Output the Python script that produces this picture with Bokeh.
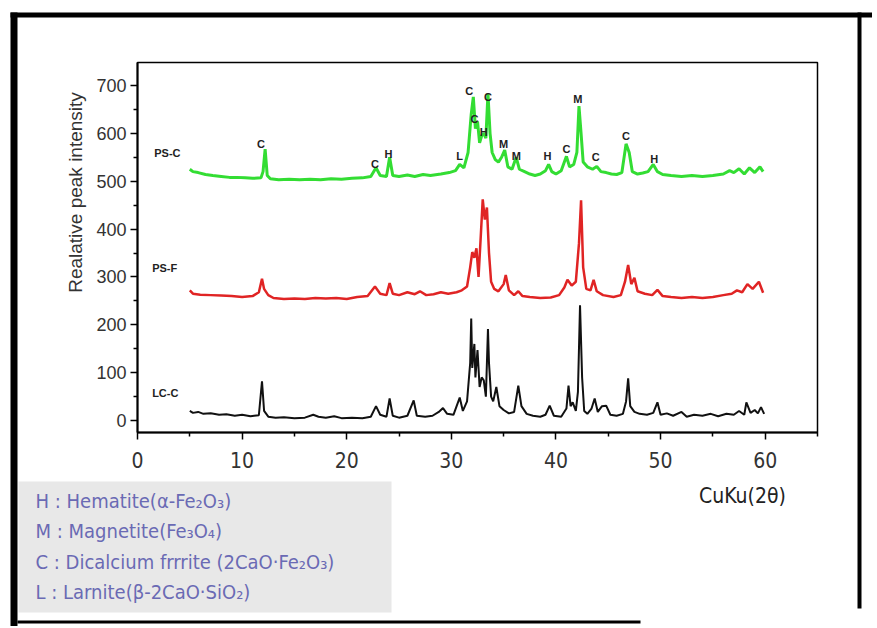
import math
from bokeh.plotting import figure
from bokeh.models import FixedTicker, Range1d
from bokeh.core.properties import value
from bokeh.embed import file_html
from bokeh.resources import INLINE

# ---------------- data ----------------
psc_x = [5.0, 5.3, 5.8, 6.5, 7.2, 8.0, 8.8, 9.5, 10.3, 11.0, 11.8, 12.0, 12.2, 12.4, 12.7, 13.5, 14.5,
         15.5, 16.5, 17.5, 18.5, 19.5, 20.5, 21.5, 22.3, 22.8, 23.2, 23.8, 24.1, 24.4, 25.0, 25.8,
         26.5, 27.3, 28.0, 29.0, 29.8, 30.4, 30.8, 31.2, 31.6, 31.9, 32.1, 32.3, 32.5, 32.7, 32.9,
         33.1, 33.3, 33.5, 33.7, 33.9, 34.2, 34.5, 34.8, 35.1, 35.4, 35.8, 36.2, 36.5, 37.0, 37.5,
         38.0, 38.5, 39.0, 39.3, 39.6, 40.0, 40.5, 41.0, 41.3, 41.7, 42.0, 42.2, 42.4, 42.6, 43.0,
         43.5, 43.9, 44.3, 44.8, 45.3, 45.8, 46.3, 46.7, 47.0, 47.3, 47.8, 48.3, 48.8, 49.3, 49.7,
         50.2, 51.0, 52.0, 53.0, 54.0, 55.0, 56.0, 56.6, 57.0, 57.5, 58.0, 58.5, 59.0, 59.5, 59.8]
psc_y = [525, 520, 518, 514, 512, 510, 508, 508, 507, 506, 507, 520, 567, 512, 505, 503, 504,
         503, 504, 503, 505, 504, 506, 507, 510, 528, 512, 510, 550, 512, 510, 513,
         510, 514, 512, 515, 518, 522, 535, 528, 560, 640, 676, 610, 625, 580, 595,
         600, 590, 683, 600, 560, 545, 540, 550, 565, 530, 525, 550, 525, 520, 515,
         512, 515, 522, 535, 520, 515, 522, 552, 530, 535, 560, 657, 600, 540, 530,
         525, 531, 520, 518, 515, 514, 518, 578, 560, 520, 515, 517, 520, 535, 520,
         514, 512, 510, 512, 510, 512, 515, 522, 518, 526, 515, 528, 518, 530, 520]

psf_x = [5.0, 5.3, 6.0, 7.0, 8.0, 9.0, 10.0, 11.0, 11.6, 11.9, 12.1, 12.5, 13.0, 14.0, 15.0, 16.0,
         17.0, 18.0, 19.0, 20.0, 21.0, 22.0, 22.7, 23.2, 23.8, 24.1, 24.4, 25.0, 25.8, 26.5, 27.0,
         27.6, 28.3, 29.0, 29.7, 30.5, 31.0, 31.5, 31.8, 32.0, 32.2, 32.4, 32.6, 32.8, 33.0, 33.2,
         33.4, 33.6, 33.8, 34.1, 34.5, 35.0, 35.2, 35.5, 36.0, 36.4, 36.8, 37.5, 38.5, 39.5, 40.3,
         40.8, 41.1, 41.5, 41.9, 42.2, 42.4, 42.6, 42.9, 43.3, 43.6, 43.9, 44.5, 45.5, 46.2, 46.6,
         46.9, 47.2, 47.5, 47.8, 48.5, 49.2, 49.7, 50.2, 51.0, 52.0, 53.0, 54.0, 55.0, 56.0, 56.8,
         57.3, 57.8, 58.3, 58.8, 59.4, 59.8]
psf_y = [272, 265, 263, 262, 261, 260, 258, 260, 268, 296, 275, 262, 256, 254, 255, 254,
         256, 255, 256, 254, 258, 260, 280, 265, 262, 287, 265, 262, 268, 264, 270,
         262, 264, 268, 265, 268, 272, 280, 320, 352, 340, 360, 300, 380, 462, 420,
         445, 350, 290, 275, 270, 285, 304, 272, 262, 270, 260, 258, 256, 257, 262,
         278, 294, 282, 290, 370, 460, 320, 275, 272, 294, 270, 262, 258, 262, 290,
         325, 285, 298, 270, 265, 262, 273, 260, 258, 256, 258, 256, 258, 262, 265,
         272, 268, 285, 275, 290, 267]

lcc_x = [5.0, 5.3, 5.8, 6.3, 7.0, 7.8, 8.5, 9.3, 10.0, 10.8, 11.6, 11.9, 12.1, 12.5, 13.2, 14.0,
         15.0, 16.0, 16.8, 17.3, 18.0, 18.8, 19.5, 20.5, 21.5, 22.3, 22.8, 23.2, 23.8, 24.1, 24.4,
         25.0, 25.8, 26.4, 26.7, 27.5, 28.2, 28.8, 29.2, 29.6, 30.2, 30.8, 31.1, 31.5, 31.8, 31.9,
         32.0, 32.2, 32.3, 32.5, 32.7, 32.9, 33.1, 33.3, 33.5, 33.6, 33.8, 34.0, 34.3, 34.6, 35.0,
         35.5, 36.0, 36.4, 36.7, 37.2, 37.8, 38.5, 39.0, 39.4, 39.8, 40.5, 41.0, 41.2, 41.4, 41.6,
         41.9, 42.1, 42.3, 42.5, 42.7, 43.0, 43.4, 43.7, 44.0, 44.4, 44.8, 45.2, 45.8, 46.4, 46.7,
         46.9, 47.1, 47.5, 48.0, 48.7, 49.3, 49.7, 50.0, 50.6, 51.2, 52.0, 52.5, 53.2, 54.0, 54.8,
         55.5, 56.3, 57.0, 57.5, 58.0, 58.2, 58.6, 59.0, 59.3, 59.6, 59.9]
lcc_y = [20, 16, 18, 14, 15, 12, 13, 10, 12, 9, 11, 82, 20, 8, 6, 7,
         5, 6, 12, 8, 6, 9, 5, 6, 5, 8, 30, 12, 8, 46, 10,
         6, 10, 42, 10, 8, 10, 18, 26, 14, 12, 48, 20, 40, 120, 213,
         110, 160, 90, 147, 70, 90, 84, 50, 191, 120, 50, 40, 70, 30, 22,
         15, 18, 73, 30, 14, 10, 8, 12, 31, 10, 8, 25, 73, 30, 38,
         20, 60, 241, 90, 20, 14, 25, 46, 18, 30, 31, 12, 10, 14, 40,
         88, 30, 18, 14, 12, 16, 38, 12, 15, 10, 18, 8, 12, 10, 14,
         9, 14, 12, 20, 12, 38, 16, 22, 15, 28, 14]

# phase markers on the PS-C pattern
mark_text = ["C", "C", "H", "L", "C", "C", "H", "C", "M", "M", "H", "C", "M", "C", "C", "H"]
mark_x = [11.8, 22.7, 24.0, 30.8, 31.7, 32.2, 33.1, 33.5, 35.0, 36.2, 39.2, 41.0, 42.1, 43.8, 46.7, 49.4]
mark_y = [578, 536, 557, 552, 689, 630, 603, 676, 578, 552, 552, 567, 672, 550, 594, 546]

series_names = ["PS-C", "PS-F", "LC-C"]
series_label_x = [1.6, 1.4, 1.4]
series_label_y = [559, 319, 57]

x_ticks = [0, 10, 20, 30, 40, 50, 60]
x_minor = [5, 15, 25, 35, 45, 55, 65]
y_ticks = [0, 100, 200, 300, 400, 500, 600, 700]
y_minor = [50, 150, 250, 350, 450, 550, 650]

x_title = "CuKu(2\u03b8)"
y_title = "Realative peak intensity"
legend_lines = ["H : Hematite(\u03b1-Fe\u2082O\u2083)",
                "M : Magnetite(Fe\u2083O\u2084)",
                "C : Dicalcium frrrite (2CaO\u00b7Fe\u2082O\u2083)",
                "L : Larnite(\u03b2-2CaO\u00b7SiO\u2082)"]

# ---------------- geometry (canvas pixels) ----------------
W, H = 872, 626
FL, FR, FT, FB = 137, 817, 62, 432     # chart box in canvas pixels
X0, X1 = 0, 65                         # chart box in data units
Y0, Y1 = -25, 748
SX = (FR - FL) / (X1 - X0)
SY = (FB - FT) / (Y1 - Y0)


def dx(px):
    return X0 + (px - FL) / SX


def dy(py):
    return Y0 + (FB - py) / SY


p = figure(width=W, height=H, output_backend="svg", toolbar_location=None,
           x_range=Range1d(dx(0), dx(W)), y_range=Range1d(dy(H), dy(0)),
           min_border=0, min_border_left=0, min_border_right=0,
           min_border_top=0, min_border_bottom=0)
p.background_fill_color = "white"
p.border_fill_color = "white"
p.outline_line_color = None
p.xgrid.visible = False
p.ygrid.visible = False

NARROW = "'Liberation Sans Narrow', 'DejaVu Sans Condensed', sans-serif"
SANS = "'Liberation Sans', Arial, sans-serif"

p.xaxis.ticker = FixedTicker(ticks=x_ticks, minor_ticks=x_minor)
p.yaxis.ticker = FixedTicker(ticks=y_ticks, minor_ticks=y_minor)
p.xaxis.fixed_location = Y0
p.yaxis.fixed_location = X0
p.xaxis.bounds = (X0, X1)
p.yaxis.bounds = (Y0, Y1)
for ax in (p.xaxis[0], p.yaxis[0]):
    ax.axis_line_color = "black"
    ax.axis_line_width = 2
    ax.major_tick_line_color = "black"
    ax.minor_tick_line_color = "black"
    ax.major_tick_line_width = 1.5
    ax.minor_tick_line_width = 1.5
    ax.major_tick_in = 0
    ax.major_tick_out = 7
    ax.minor_tick_in = 0
    ax.minor_tick_out = 4
    ax.major_label_text_color = "#333333"
p.xaxis.major_label_text_font = NARROW
p.xaxis.major_label_text_font_size = "21px"
p.xaxis.major_label_standoff = 12
p.yaxis.major_label_text_font = SANS
p.yaxis.major_label_text_font_size = "18px"
p.yaxis.major_label_standoff = 4

# outer scanned border and chart box
for l, r, t, b in [(10, 17, 12, 626), (10, 872, 12, 17), (857, 861, 12, 608), (17, 640, 620, 623)]:
    p.quad(left=dx(l), right=dx(r), top=dy(t), bottom=dy(b), fill_color="black",
           line_color=None)
p.quad(left=X0, right=X1, bottom=Y0, top=Y1, fill_color=None, line_color="black",
       line_width=1.5)

# legend box
p.quad(left=dx(18), right=dx(391), top=dy(481), bottom=dy(612), fill_color="#e8e8e8",
       line_color=None)

# ---------------- series ----------------
p.line(psc_x, psc_y, line_color="#33dd33", line_width=3)
p.line(psf_x, psf_y, line_color="#e02424", line_width=2.5)
p.line(lcc_x, lcc_y, line_color="#111111", line_width=2)

p.text(mark_x, mark_y, text=mark_text, text_font=value("Liberation Sans"),
       text_font_style="bold", text_font_size="11px", text_color="#222222",
       text_align="center", text_baseline="middle")
p.text(series_label_x, series_label_y, text=series_names, text_font=value("Liberation Sans"),
       text_font_style="bold", text_font_size="11px", text_color="#222222",
       text_align="left", text_baseline="middle")

# ---------------- titles and key ----------------
p.text([dx(75)], [dy(192)], text=[y_title], angle=math.pi / 2,
       text_font=value(SANS), text_font_size="19px", text_color="#333333",
       text_align="center", text_baseline="middle")
p.text([dx(742)], [dy(495)], text=[x_title],
       text_font=value(NARROW), text_font_size="21px", text_color="#222222",
       text_align="center", text_baseline="middle")
p.text([dx(35)] * len(legend_lines), [dy(500 + i * 30.5) for i in range(len(legend_lines))],
       text=legend_lines, text_font=value(NARROW), text_font_size="20px",
       text_color="#6a6ab4", text_align="left", text_baseline="middle")

open("out.html", "w").write(file_html(p, INLINE))
